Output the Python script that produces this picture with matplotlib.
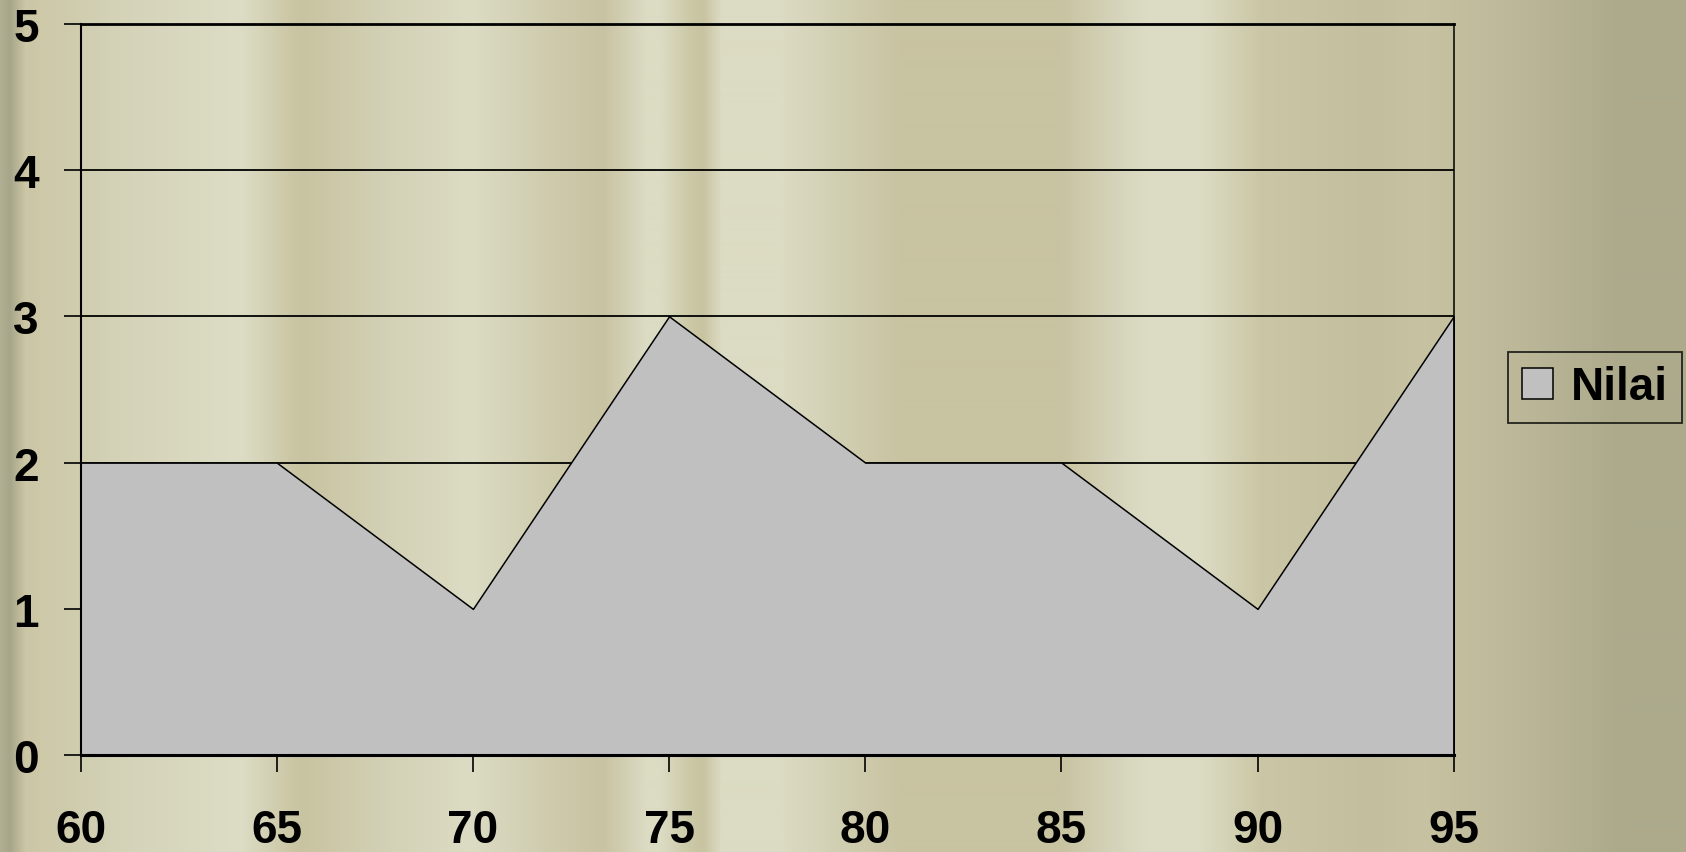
import numpy as np
import matplotlib
matplotlib.use("Agg")
import matplotlib.pyplot as plt
from matplotlib.colors import to_rgb

# ---- data ----
x_values = [60, 65, 70, 75, 80, 85, 90, 95]
nilai = [2, 2, 1, 3, 2, 2, 1, 3]
y_ticks = [0, 1, 2, 3, 4, 5]
series_name = "Nilai"

W, H = 1686, 853
fig = plt.figure(figsize=(W / 100, H / 100), dpi=100)

# ---- background with vertical stripes ----
stops = [
    (0, "#B2B092"), (10, "#A8A68A"), (25, "#CBC6A5"), (120, "#D4D3B8"),
    (240, "#DDDDC6"), (300, "#C8C3A0"), (380, "#D2D0B4"), (470, "#DCDCC4"),
    (560, "#CDC9AA"), (603, "#C8C3A2"), (646, "#DCDCC4"), (660, "#DCDCC4"),
    (689, "#CCC9A8"), (703, "#C8C3A1"), (721, "#DCDBC3"), (780, "#DCDBC3"),
    (840, "#D1CFB2"), (900, "#C8C3A1"), (1060, "#C8C3A1"), (1120, "#D6D5BC"),
    (1150, "#DDDDC6"), (1200, "#DCDCC4"), (1260, "#CBC7A6"), (1370, "#C3BF9E"),
    (1420, "#C7C3A2"), (1520, "#BBB798"), (1620, "#ADAA8C"), (1686, "#ADAA8C"),
]
cols = np.arange(W)
sx = [s[0] for s in stops]
rgb = np.array([to_rgb(s[1]) for s in stops])
row = np.stack([np.interp(cols, sx, rgb[:, k]) for k in range(3)], axis=-1)
bg = np.repeat(row[np.newaxis, :, :], 2, axis=0)
bgax = fig.add_axes([0, 0, 1, 1], zorder=-10)
bgax.imshow(bg, aspect="auto", extent=[0, 1, 0, 1], interpolation="bilinear")
bgax.axis("off")

# ---- main axes ----
left, right = 80.6 / W, 1453.7 / W
top, bottom = 1 - 24.7 / H, 1 - 756.2 / H
ax = fig.add_axes([left, bottom, right - left, top - bottom])
ax.patch.set_alpha(0)

ax.set_xlim(x_values[0], x_values[-1])
ax.set_ylim(y_ticks[0], y_ticks[-1])

for yv in y_ticks[1:]:
    ax.axhline(yv, color="black", lw=1.3, zorder=1)

ax.fill_between(x_values, nilai, 0, facecolor="#C0C0C0", edgecolor="black",
                lw=1.1, zorder=2, label=series_name)

for side in ["left", "bottom", "right", "top"]:
    ax.spines[side].set_color("black")
ax.spines["left"].set_linewidth(1.5)
ax.spines["bottom"].set_linewidth(2.2)
ax.spines["right"].set_linewidth(1.1)
ax.spines["top"].set_linewidth(2.0)
for s in ax.spines.values():
    s.set_zorder(5)

ax.set_xticks(x_values)
ax.set_yticks(y_ticks)
fp = dict(family="Liberation Sans", weight="bold", size=33)
ax.set_xticklabels([str(v) for v in x_values], **fp)
ax.set_yticklabels([str(v) for v in y_ticks], **fp)
ax.tick_params(axis="x", direction="out", length=12, width=1.2, pad=26, colors="black")
ax.tick_params(axis="y", direction="out", length=12, width=1.2, pad=18, colors="black")

leg = ax.legend(loc="center left", bbox_to_anchor=(1508 / W, 1 - 388.5 / H),
                bbox_transform=fig.transFigure, borderaxespad=0,
                prop=dict(family="Liberation Sans", weight="bold", size=33),
                handlelength=0.68, handleheight=0.68, handletextpad=0.4,
                borderpad=0.3, fancybox=False, frameon=True)
fr = leg.get_frame()
fr.set_edgecolor("black")
fr.set_facecolor("none")
fr.set_linewidth(1.3)

fig.savefig("out.png", dpi=100)
